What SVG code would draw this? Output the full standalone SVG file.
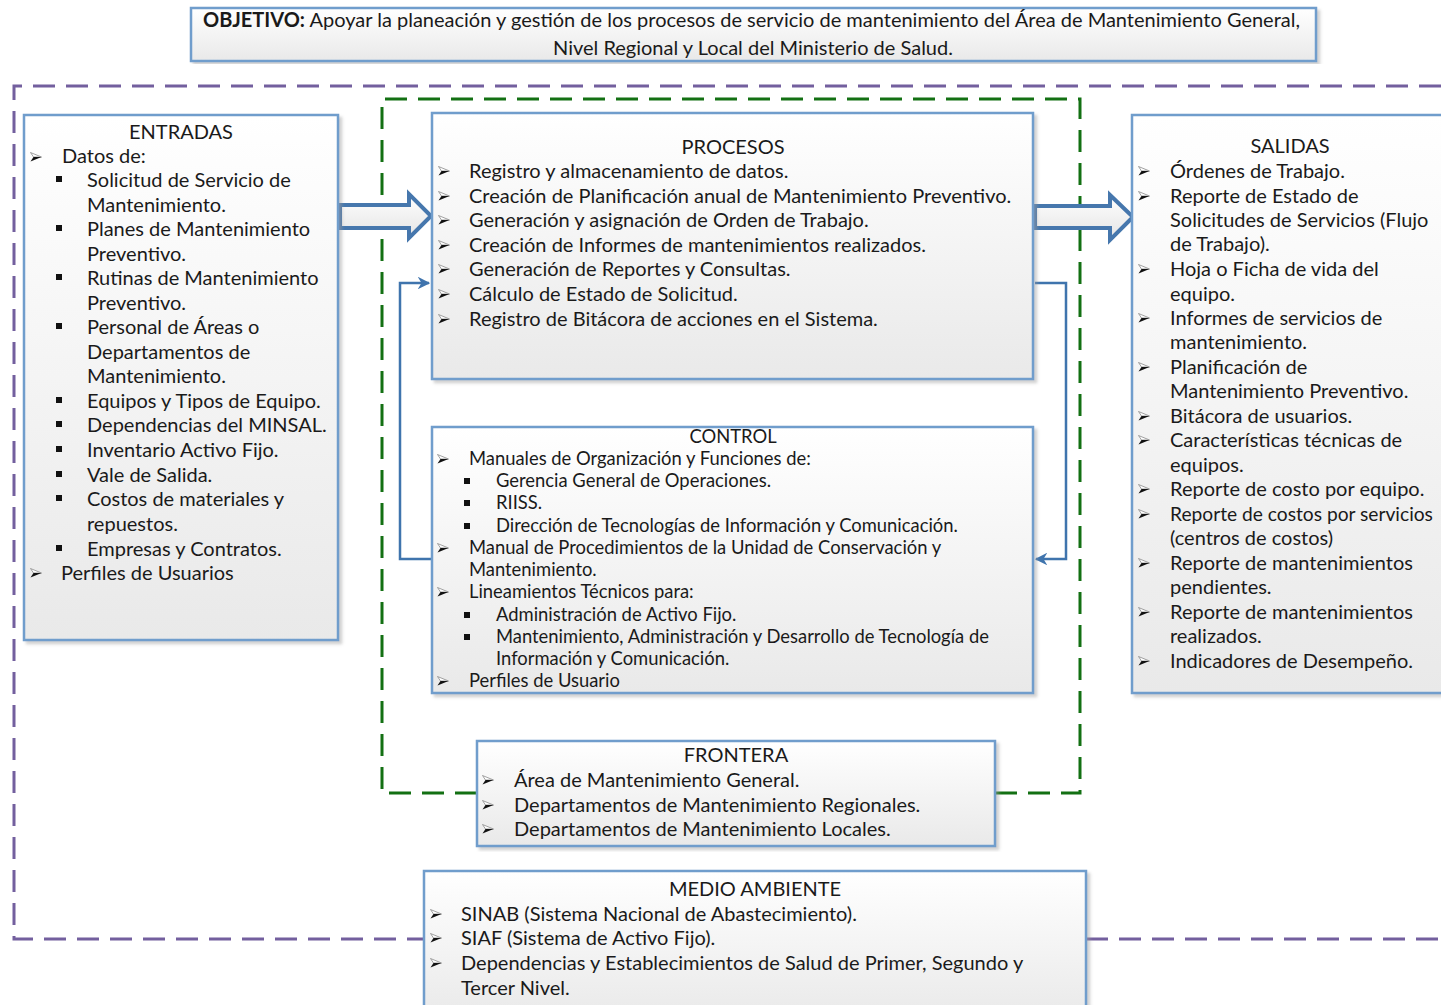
<svg xmlns="http://www.w3.org/2000/svg" width="1441" height="1005" viewBox="0 0 1441 1005">
  <defs>
    <linearGradient id="boxFill" x1="0" y1="0" x2="0" y2="1">
      <stop offset="0" stop-color="#ffffff"/>
      <stop offset="1" stop-color="#e9e9e9"/>
    </linearGradient>
    <linearGradient id="arrowFill" x1="0" y1="0" x2="0" y2="1">
      <stop offset="0" stop-color="#ffffff"/>
      <stop offset="1" stop-color="#e4e4e4"/>
    </linearGradient>
    <filter id="shadow" x="-5%" y="-5%" width="110%" height="110%">
      <feDropShadow dx="3" dy="3" stdDeviation="1.5" flood-color="#9a9a9a" flood-opacity="0.45"/>
    </filter>
    <marker id="head" viewBox="0 0 10 10" refX="9" refY="5" markerWidth="5" markerHeight="5" orient="auto" markerUnits="strokeWidth">
      <path d="M0,0 L10,5 L0,10 L3,5 Z" fill="#3f74ad"/>
    </marker>
    <!-- arrowhead list bullet -->
    <symbol id="ab" viewBox="0 0 12 10" width="12" height="10" overflow="visible">
      <path d="M0.5,0.5 L11.5,5 L3.5,5 Z" fill="#ffffff" stroke="#8a8a8a" stroke-width="0.8"/>
      <path d="M3.5,5 L11.5,5 L0.5,9.5 Z" fill="#111111"/>
    </symbol>
    <!-- square list bullet -->
    <symbol id="sq" viewBox="0 0 6 6" width="6" height="6">
      <rect width="6" height="6" fill="#111111"/>
    </symbol>
  </defs>
  <style>
    .box { fill: url(#boxFill); stroke: #6f9dcc; stroke-width: 2.5; filter: url(#shadow); }
    .t { font-family: "Lato", "Open Sans", "Liberation Sans", sans-serif; font-size: 20px; fill: #1a1a1a; }
    .s { font-family: "Lato", "Open Sans", "Liberation Sans", sans-serif; font-size: 18.4px; fill: #1a1a1a; }
    .c { text-anchor: middle; }
    .b { font-weight: bold; }
    .purple { fill: none; stroke: #735f9e; stroke-width: 3; stroke-dasharray: 22 11; }
    .green { fill: none; stroke: #137013; stroke-width: 3; stroke-dasharray: 22 11; }
    .block { fill: url(#arrowFill); stroke: #4677ad; stroke-width: 4; stroke-linejoin: miter; }
    .link { fill: none; stroke: #3f74ad; stroke-width: 2.5; marker-end: url(#head); }
  </style>

  <rect width="1441" height="1005" fill="#ffffff"/>

  <!-- system boundary frames -->
  <g id="frames">
    <path class="purple" d="M1441,86 L14,86 L14,939 L424,939"/>
    <path class="purple" d="M1086,939 L1441,939"/>
    <path class="green" d="M477,793 L382,793 L382,99 L1080,99 L1080,793 L995,793"/>
  </g>

  <!-- objective -->
  <g id="objetivo">
    <rect class="box" x="191" y="8" width="1125" height="53"/>
    <text class="t" x="203" y="27"><tspan class="b">OBJETIVO:</tspan> Apoyar la planeación y gestión de los procesos de servicio de mantenimiento del Área de Mantenimiento General,</text>
    <text class="t c" x="753" y="55">Nivel Regional y Local del Ministerio de Salud.</text>
  </g>

  <!-- connectors -->
  <g id="connectors">
    <path class="block" d="M340,205 L409,205 L409,194 L431,216 L409,238 L409,228 L340,228 Z"/>
    <path class="block" d="M1035,206 L1110,206 L1110,195 L1133,217 L1110,240 L1110,228 L1035,228 Z"/>
    <path class="link" d="M432,559 L400,559 L400,283 L429,283"/>
    <path class="link" d="M1035,283 L1066,283 L1066,559 L1036,559"/>
  </g>

  <!-- ENTRADAS -->
  <g id="entradas">
    <rect class="box" x="24" y="115" width="314" height="525"/>
    <text class="t c" x="181" y="139">ENTRADAS</text>
    <use href="#ab" x="30" y="152"/>
    <text class="t" x="62" y="163">Datos de:</text>
    <use href="#sq" x="56" y="176"/>
    <text class="t" x="87" y="187">Solicitud de Servicio de</text>
    <text class="t" x="87" y="212">Mantenimiento.</text>
    <use href="#sq" x="56" y="225"/>
    <text class="t" x="87" y="236">Planes de Mantenimiento</text>
    <text class="t" x="87" y="261">Preventivo.</text>
    <use href="#sq" x="56" y="274"/>
    <text class="t" x="87" y="285">Rutinas de Mantenimiento</text>
    <text class="t" x="87" y="310">Preventivo.</text>
    <use href="#sq" x="56" y="323"/>
    <text class="t" x="87" y="334">Personal de Áreas o</text>
    <text class="t" x="87" y="359">Departamentos de</text>
    <text class="t" x="87" y="383">Mantenimiento.</text>
    <use href="#sq" x="56" y="397"/>
    <text class="t" x="87" y="408">Equipos y Tipos de Equipo.</text>
    <use href="#sq" x="56" y="421"/>
    <text class="t" x="87" y="432">Dependencias del MINSAL.</text>
    <use href="#sq" x="56" y="446"/>
    <text class="t" x="87" y="457">Inventario Activo Fijo.</text>
    <use href="#sq" x="56" y="471"/>
    <text class="t" x="87" y="482">Vale de Salida.</text>
    <use href="#sq" x="56" y="495"/>
    <text class="t" x="87" y="506">Costos de materiales y</text>
    <text class="t" x="87" y="531">repuestos.</text>
    <use href="#sq" x="56" y="545"/>
    <text class="t" x="87" y="556">Empresas y Contratos.</text>
    <use href="#ab" x="30" y="568"/>
    <text class="t" x="61" y="580">Perfiles de Usuarios</text>
  </g>

  <!-- PROCESOS -->
  <g id="procesos">
    <rect class="box" x="432" y="113" width="601" height="266"/>
    <text class="t c" x="733" y="154">PROCESOS</text>
    <use href="#ab" x="438" y="166"/>
    <text class="t" x="469" y="178">Registro y almacenamiento de datos.</text>
    <use href="#ab" x="438" y="191"/>
    <text class="t" x="469" y="203">Creación de Planificación anual de Mantenimiento Preventivo.</text>
    <use href="#ab" x="438" y="215"/>
    <text class="t" x="469" y="227">Generación y asignación de Orden de Trabajo.</text>
    <use href="#ab" x="438" y="240"/>
    <text class="t" x="469" y="252">Creación de Informes de mantenimientos realizados.</text>
    <use href="#ab" x="438" y="264"/>
    <text class="t" x="469" y="276">Generación de Reportes y Consultas.</text>
    <use href="#ab" x="438" y="289"/>
    <text class="t" x="469" y="301">Cálculo de Estado de Solicitud.</text>
    <use href="#ab" x="438" y="314"/>
    <text class="t" x="469" y="326">Registro de Bitácora de acciones en el Sistema.</text>
  </g>

  <!-- CONTROL -->
  <g id="control">
    <rect class="box" x="432" y="427" width="601" height="266"/>
    <text class="s c" x="733" y="443">CONTROL</text>
    <use href="#ab" x="437" y="454"/>
    <text class="s" x="469" y="465">Manuales de Organización y Funciones de:</text>
    <use href="#sq" x="464" y="478"/>
    <text class="s" x="496" y="487">Gerencia General de Operaciones.</text>
    <use href="#sq" x="464" y="500"/>
    <text class="s" x="496" y="509">RIISS.</text>
    <use href="#sq" x="464" y="523"/>
    <text class="s" x="496" y="532">Dirección de Tecnologías de Información y Comunicación.</text>
    <use href="#ab" x="437" y="543"/>
    <text class="s" x="469" y="554">Manual de Procedimientos de la Unidad de Conservación y</text>
    <text class="s" x="469" y="576">Mantenimiento.</text>
    <use href="#ab" x="437" y="587"/>
    <text class="s" x="469" y="598">Lineamientos Técnicos para:</text>
    <use href="#sq" x="464" y="612"/>
    <text class="s" x="496" y="621">Administración de Activo Fijo.</text>
    <use href="#sq" x="464" y="634"/>
    <text class="s" x="496" y="643">Mantenimiento, Administración y Desarrollo de Tecnología de</text>
    <text class="s" x="496" y="665">Información y Comunicación.</text>
    <use href="#ab" x="437" y="676"/>
    <text class="s" x="469" y="687">Perfiles de Usuario</text>
  </g>

  <!-- SALIDAS -->
  <g id="salidas">
    <rect class="box" x="1132" y="115" width="320" height="578"/>
    <text class="t c" x="1290" y="153">SALIDAS</text>
    <use href="#ab" x="1138" y="166"/>
    <text class="t" x="1170" y="178">Órdenes de Trabajo.</text>
    <use href="#ab" x="1138" y="191"/>
    <text class="t" x="1170" y="203">Reporte de Estado de</text>
    <text class="t" x="1170" y="227">Solicitudes de Servicios (Flujo</text>
    <text class="t" x="1170" y="251">de Trabajo).</text>
    <use href="#ab" x="1138" y="264"/>
    <text class="t" x="1170" y="276">Hoja o Ficha de vida del</text>
    <text class="t" x="1170" y="301">equipo.</text>
    <use href="#ab" x="1138" y="313"/>
    <text class="t" x="1170" y="325">Informes de servicios de</text>
    <text class="t" x="1170" y="349">mantenimiento.</text>
    <use href="#ab" x="1138" y="362"/>
    <text class="t" x="1170" y="374">Planificación de</text>
    <text class="t" x="1170" y="398">Mantenimiento Preventivo.</text>
    <use href="#ab" x="1138" y="411"/>
    <text class="t" x="1170" y="423">Bitácora de usuarios.</text>
    <use href="#ab" x="1138" y="435"/>
    <text class="t" x="1170" y="447">Características técnicas de</text>
    <text class="t" x="1170" y="472">equipos.</text>
    <use href="#ab" x="1138" y="484"/>
    <text class="t" x="1170" y="496">Reporte de costo por equipo.</text>
    <use href="#ab" x="1138" y="509"/>
    <text class="t" x="1170" y="521" style="font-size:19.2px">Reporte de costos por servicios</text>
    <text class="t" x="1170" y="545">(centros de costos)</text>
    <use href="#ab" x="1138" y="558"/>
    <text class="t" x="1170" y="570">Reporte de mantenimientos</text>
    <text class="t" x="1170" y="594">pendientes.</text>
    <use href="#ab" x="1138" y="607"/>
    <text class="t" x="1170" y="619">Reporte de mantenimientos</text>
    <text class="t" x="1170" y="643">realizados.</text>
    <use href="#ab" x="1138" y="656"/>
    <text class="t" x="1170" y="668">Indicadores de Desempeño.</text>
  </g>

  <!-- FRONTERA -->
  <g id="frontera">
    <rect class="box" x="477" y="741" width="518" height="105"/>
    <text class="t c" x="736" y="762">FRONTERA</text>
    <use href="#ab" x="482" y="775"/>
    <text class="t" x="514" y="787">Área de Mantenimiento General.</text>
    <use href="#ab" x="482" y="800"/>
    <text class="t" x="514" y="812">Departamentos de Mantenimiento Regionales.</text>
    <use href="#ab" x="482" y="824"/>
    <text class="t" x="514" y="836">Departamentos de Mantenimiento Locales.</text>
  </g>

  <!-- MEDIO AMBIENTE -->
  <g id="medio-ambiente">
    <rect class="box" x="424" y="871" width="662" height="150"/>
    <text class="t c" x="755" y="896">MEDIO AMBIENTE</text>
    <use href="#ab" x="430" y="909"/>
    <text class="t" x="461" y="921">SINAB (Sistema Nacional de Abastecimiento).</text>
    <use href="#ab" x="430" y="933"/>
    <text class="t" x="461" y="945">SIAF (Sistema de Activo Fijo).</text>
    <use href="#ab" x="430" y="958"/>
    <text class="t" x="461" y="970">Dependencias y Establecimientos de Salud de Primer, Segundo y</text>
    <text class="t" x="461" y="995">Tercer Nivel.</text>
  </g>
</svg>
